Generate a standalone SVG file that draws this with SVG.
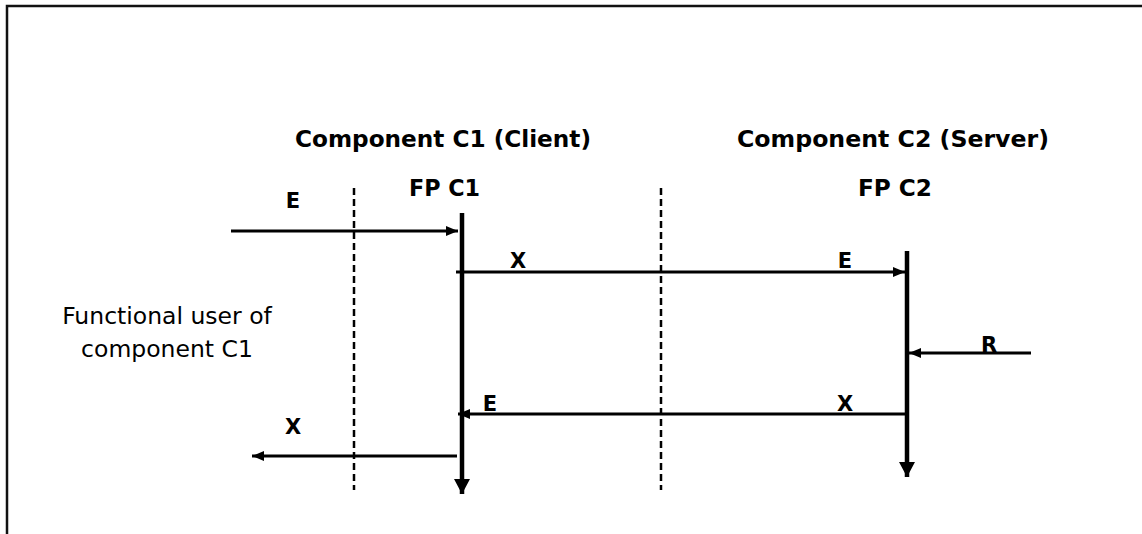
<svg xmlns="http://www.w3.org/2000/svg" width="1142" height="534" viewBox="0 0 1142 534">
<style>
.hd{font-family:"DejaVu Sans",Verdana,sans-serif;font-weight:bold;font-size:23.5px;fill:#000}
.lb{font-family:"DejaVu Sans",Verdana,sans-serif;font-weight:bold;font-size:21px;fill:#000}
.tx{font-family:"DejaVu Sans",Verdana,sans-serif;font-size:23.5px;fill:#000}
.h{stroke:#000;stroke-width:3;fill:none}
.v{stroke:#000;stroke-width:4.5;fill:none}
.d{stroke:#000;stroke-width:2.5;stroke-dasharray:7 4;fill:none}
</style>
<defs>
<marker id="ah" markerUnits="userSpaceOnUse" markerWidth="12" markerHeight="10" refX="12" refY="5" orient="auto">
<path d="M0,0 L12,5 L0,10 Z" fill="#000"/>
</marker>
<marker id="av" markerUnits="userSpaceOnUse" markerWidth="15" markerHeight="16" refX="15" refY="8" orient="auto">
<path d="M0,0 L15,8 L0,16 Z" fill="#000"/>
</marker>
</defs>
<rect width="1142" height="534" fill="#fff"/>
<path d="M7,534 V6 H1142" stroke="#111" stroke-width="2.5" fill="none"/>
<g id="c1">
<text class="hd" x="295" y="147" textLength="296" lengthAdjust="spacingAndGlyphs">Component C1 (Client)</text>
<text class="hd" x="409" y="196" textLength="71" lengthAdjust="spacingAndGlyphs">FP C1</text>
<line class="v" x1="462" y1="213" x2="462" y2="494" marker-end="url(#av)"/>
</g>
<g id="c2">
<text class="hd" x="737" y="147" textLength="312" lengthAdjust="spacingAndGlyphs">Component C2 (Server)</text>
<text class="hd" x="858" y="196" textLength="74" lengthAdjust="spacingAndGlyphs">FP C2</text>
<line class="v" x1="907" y1="251" x2="907" y2="477" marker-end="url(#av)"/>
</g>
<g id="user">
<text class="tx" x="167" y="324" text-anchor="middle">Functional user of</text>
<text class="tx" x="167" y="357" text-anchor="middle">component C1</text>
</g>
<g id="boundaries">
<line class="d" x1="354" y1="188" x2="354" y2="490"/>
<line class="d" x1="661" y1="188" x2="661" y2="490"/>
</g>
<g id="connectors">
<line class="h" x1="231" y1="231" x2="458" y2="231" marker-end="url(#ah)"/>
<line class="h" x1="456" y1="272" x2="905" y2="272" marker-end="url(#ah)"/>
<line class="h" x1="1031" y1="353" x2="909" y2="353" marker-end="url(#ah)"/>
<line class="h" x1="907" y1="414" x2="458" y2="414" marker-end="url(#ah)"/>
<line class="h" x1="457" y1="456" x2="252" y2="456" marker-end="url(#ah)"/>
</g>
<g id="labels">
<text class="lb" x="293" y="208" text-anchor="middle">E</text>
<text class="lb" x="518" y="268" text-anchor="middle">X</text>
<text class="lb" x="845" y="268" text-anchor="middle">E</text>
<text class="lb" x="989" y="352" text-anchor="middle">R</text>
<text class="lb" x="490" y="411" text-anchor="middle">E</text>
<text class="lb" x="845" y="411" text-anchor="middle">X</text>
<text class="lb" x="293" y="434" text-anchor="middle">X</text>
</g>
</svg>
